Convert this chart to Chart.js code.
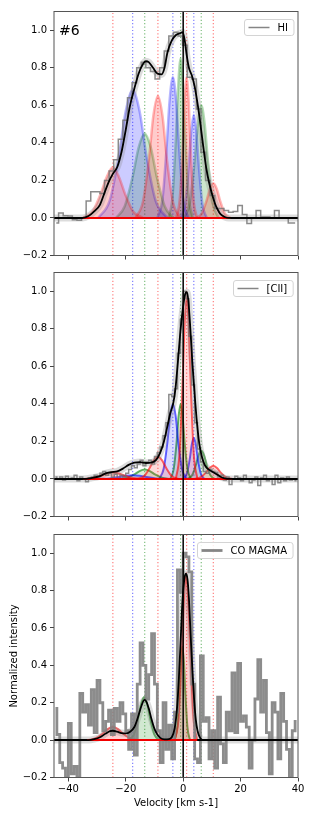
<!DOCTYPE html>
<html><head><meta charset="utf-8">
<script src="https://cdn.jsdelivr.net/npm/chart.js@4.4.1/dist/chart.umd.min.js"></script>
<style>
html,body{margin:0;padding:0;background:#fff;}
#wrap{position:relative;width:314px;height:816px;overflow:hidden;}
canvas{position:absolute;left:0;top:0;}
</style></head><body>
<div id="wrap">
<canvas id="c1" width="314" height="816"></canvas>
<canvas id="c2" width="314" height="816"></canvas>
<canvas id="c3" width="314" height="816"></canvas>
</div>
<script>
// ---------- DATA ----------
const panelLabels = ['HI', '[CII]', 'CO MAGMA'];
const regionTag = '#6';
const xTickValues = [-40, -20, 0, 20, 40];
const yTickValues = [-0.2, 0.0, 0.2, 0.4, 0.6, 0.8, 1.0];
const componentCenters = [-24.5, -17.6, -13.4, -8.8, -3.6, -0.9, 1.2, 3.7, 6.3, 10.5];
const componentCenterColors = ['r','b','g','r','b','g','r','b','g','r'];

// HI observed spectrum (channel centres, km/s) and normalized intensity
const hiVelocity = [-44.2,-42.6,-41.0,-39.4,-37.8,-36.2,-34.6,-33.0,-31.4,-29.8,
  -28.2,-26.6,-25.0,-23.4,-21.8,-20.2,-18.6,-17.0,-15.4,-13.8,
  -12.2,-10.6,-9.0,-7.4,-5.8,-4.2,-2.6,-1.0,0.6,2.2,
  3.8,5.4,7.0,8.6,10.2,11.8,13.4,15.0,16.6,18.2,
  19.8,21.4,23.0,24.6,26.2,27.8,29.4,31.0,32.6,34.2,
  35.8,37.4,39.0];
const hiObserved = [-0.027,0.027,0.012,0.01,-0.01,-0.012,0.0,0.09,0.14,0.14,
  0.13,0.2,0.25,0.31,0.42,0.52,0.64,0.72,0.8,0.83,
  0.8,0.78,0.74,0.8,0.89,0.97,0.99,0.97,0.92,0.75,
  0.74,0.58,0.35,0.2,0.12,0.05,0.05,0.04,0.03,0.035,
  0.067,0.018,-0.03,0.0,0.04,0.005,0.005,0.0,0.04,0.0,
  0.0,-0.027,-0.027];
const hiModelVelocity = [-45,-35,-33,-31,-29,-27.5,-26,-24.5,-23,-21.5,
  -20,-18.5,-17,-15.5,-14,-13,-12,-10.5,-9,-7.5,
  -6.5,-5.5,-4,-2.5,-1,-0.2,0.5,1.2,2,3,
  4,5,6,7,8,9,10,11,12,13,
  14.5,16,40];
const hiModel = [0,0,0.01,0.035,0.07,0.13,0.19,0.235,0.27,0.35,
  0.47,0.6,0.69,0.77,0.82,0.835,0.83,0.8,0.77,0.765,
  0.8,0.88,0.945,0.975,0.985,0.99,0.95,0.87,0.8,0.76,
  0.7,0.61,0.5,0.38,0.27,0.19,0.13,0.08,0.045,0.02,
  0.005,0,0];
const hiComponents = [
  [[-35,0],[-31.5,0.036],[-28.7,0.13],[-26.6,0.22],[-24.5,0.27],[-22.4,0.22],[-20.3,0.13],[-17.5,0.036],[-14,0]],
  [[-29.6,0],[-25.6,0.092],[-22.4,0.33],[-20,0.57],[-17.6,0.68],[-15.2,0.57],[-12.8,0.33],[-9.6,0.092],[-5.6,0]],
  [[-23.4,0],[-20.4,0.061],[-17.6,0.22],[-15.5,0.376],[-13.4,0.45],[-11.3,0.376],[-9.2,0.22],[-6.4,0.061],[-3.4,0]],
  [[-16.6,0],[-14,0.088],[-11.9,0.317],[-10.4,0.543],[-8.8,0.65],[-7.2,0.543],[-5.7,0.317],[-3.6,0.088],[-1,0]],
  [[-9,0],[-7.2,0.1],[-5.8,0.37],[-4.7,0.63],[-3.6,0.75],[-2.5,0.63],[-1.4,0.37],[0,0.1],[1.8,0]],
  [[-5.1,0],[-3.7,0.115],[-2.6,0.41],[-1.7,0.71],[-0.9,0.85],[-0.1,0.71],[0.8,0.41],[1.9,0.115],[3.3,0]],
  [[-2.4,0],[-1.2,0.1],[-0.2,0.365],[0.5,0.625],[1.2,0.75],[1.9,0.625],[2.6,0.365],[3.6,0.1],[4.8,0]],
  [[-0.8,0],[0.7,0.074],[1.9,0.268],[2.8,0.46],[3.7,0.55],[4.6,0.46],[5.5,0.268],[6.7,0.074],[8.2,0]],
  [[0.3,0],[2.3,0.081],[3.9,0.29],[5.1,0.5],[6.3,0.6],[7.5,0.5],[8.7,0.29],[10.3,0.081],[12.3,0]],
  [[4.5,0],[6.5,0.025],[8.1,0.09],[9.3,0.155],[10.5,0.185],[11.7,0.155],[12.9,0.09],[14.5,0.025],[16.5,0]]
];
const hiComponentColors = ['r','b','g','r','b','g','r','b','g','r'];

// [CII] and CO share a 1 km/s channel grid
const fineVelocity = [-44.5,-43.5,-42.5,-41.5,-40.5,-39.5,-38.5,-37.5,-36.5,-35.5,
  -34.5,-33.5,-32.5,-31.5,-30.5,-29.5,-28.5,-27.5,-26.5,-25.5,
  -24.5,-23.5,-22.5,-21.5,-20.5,-19.5,-18.5,-17.5,-16.5,-15.5,
  -14.5,-13.5,-12.5,-11.5,-10.5,-9.5,-8.5,-7.5,-6.5,-5.5,
  -4.5,-3.5,-2.5,-1.5,-0.5,0.5,1.5,2.5,3.5,4.5,
  5.5,6.5,7.5,8.5,9.5,10.5,11.5,12.5,13.5,14.5,
  15.5,16.5,17.5,18.5,19.5,20.5,21.5,22.5,23.5,24.5,
  25.5,26.5,27.5,28.5,29.5,30.5,31.5,32.5,33.5,34.5,
  35.5,36.5,37.5,38.5,39.5];
const ciiObserved = [0.01,0.0,0.01,-0.005,0.015,0.0,0.005,0.02,-0.01,0.01,
  0.0,-0.015,0.005,0.01,0.02,0.01,0.03,0.04,0.02,0.03,
  0.01,0.025,0.0,0.02,0.01,0.03,0.05,0.07,0.06,0.08,
  0.1,0.07,0.09,0.1,0.08,0.12,0.14,0.17,0.23,0.3,
  0.45,0.44,0.48,0.67,0.85,1.0,0.96,0.76,0.5,0.3,
  0.16,0.09,0.04,0.03,0.05,0.04,0.035,0.01,0.02,-0.005,
  0.01,-0.03,0.0,0.015,0.005,-0.01,0.02,0.0,-0.02,-0.005,
  0.01,-0.035,0.005,0.02,-0.01,0.0,-0.03,0.02,-0.02,0.005,
  -0.01,0.01,-0.005,0.0,-0.01];
const ciiModelVelocity = [-45,-35,-32,-29,-27,-25,-23,-21,-19,-17,
  -15,-13,-11,-9.5,-8,-6.7,-5.5,-4.5,-3.5,-2.7,
  -1.8,-1,0,0.8,1.3,1.8,2.5,3.2,4,4.8,
  5.6,6.5,7.5,8.5,10,11.5,13,14.5,16,40];
const ciiModel = [0,0,0.005,0.015,0.03,0.037,0.04,0.055,0.075,0.087,
  0.09,0.085,0.088,0.1,0.14,0.2,0.28,0.35,0.4,0.48,
  0.63,0.78,0.92,0.99,0.995,0.95,0.8,0.62,0.45,0.3,
  0.19,0.12,0.075,0.055,0.04,0.027,0.012,0.003,0,0];
const ciiComponents = [
  [[-35,0],[-31.5,0.005],[-28.7,0.017],[-26.6,0.029],[-24.5,0.035],[-22.4,0.029],[-20.3,0.017],[-17.5,0.005],[-14,0]],
  [[-29.6,0],[-25.6,0.003],[-22.4,0.01],[-20,0.017],[-17.6,0.02],[-15.2,0.017],[-12.8,0.01],[-9.6,0.003],[-5.6,0]],
  [[-22.4,0],[-19.4,0.007],[-17,0.024],[-15.2,0.042],[-13.4,0.05],[-11.6,0.042],[-9.8,0.024],[-7.4,0.007],[-4.4,0]],
  [[-16,0],[-13.6,0.016],[-11.7,0.058],[-10.2,0.1],[-8.8,0.12],[-7.4,0.1],[-5.9,0.058],[-4,0.016],[-1.6,0]],
  [[-8.4,0],[-6.8,0.054],[-5.5,0.195],[-4.6,0.334],[-3.6,0.4],[-2.6,0.334],[-1.7,0.195],[-0.4,0.054],[1.2,0]],
  [[-4.5,0],[-3.3,0.054],[-2.3,0.195],[-1.6,0.334],[-0.9,0.4],[-0.2,0.334],[0.5,0.195],[1.5,0.054],[2.7,0]],
  [[-2.55,0],[-1.3,0.131],[-0.3,0.472],[0.45,0.81],[1.2,0.97],[1.95,0.81],[2.7,0.472],[3.7,0.131],[4.95,0]],
  [[0.1,0],[1.3,0.03],[2.3,0.107],[3.0,0.184],[3.7,0.22],[4.4,0.184],[5.1,0.107],[6.1,0.03],[7.3,0]],
  [[1.5,0],[3.1,0.02],[4.4,0.073],[5.3,0.125],[6.3,0.15],[7.3,0.125],[8.2,0.073],[9.5,0.02],[11.1,0]],
  [[3.9,0],[6.1,0.0095],[7.9,0.034],[9.2,0.058],[10.5,0.07],[11.8,0.058],[13.1,0.034],[14.9,0.0095],[17.1,0]]
];
const ciiComponentColors = ['r','b','g','r','b','g','r','b','g','r'];

const coObserved = [0.17,0.03,-0.12,-0.15,-0.2,0.09,-0.18,-0.14,-0.2,0.25,
  0.15,0.19,0.08,0.27,0.04,0.32,0.2,0.05,0.1,0.16,
  0.03,0.17,0.1,0.2,0.14,0.05,-0.05,0.14,-0.08,0.3,
  0.52,0.4,0.22,0.35,0.57,0.3,0.05,-0.12,0.2,-0.05,
  0.08,-0.1,0.15,0.91,0.79,1.0,0.98,0.9,0.3,-0.1,
  -0.12,0.45,0.1,0.12,-0.1,0.05,-0.15,0.23,-0.02,-0.12,
  0.15,0.05,0.36,0.04,0.41,0.1,0.13,0.07,-0.15,0.0,
  0.22,0.43,0.15,0.32,0.04,-0.18,0.2,0.15,-0.1,0.25,
  0.1,-0.05,-0.2,0.05,0.1];
const coModelVelocity = [-45,-33,-31,-29,-27,-25.5,-24.5,-23,-21.5,-20,
  -18.5,-17,-15.8,-14.5,-13.5,-12.8,-12,-11,-10,-9,
  -8,-6.5,-5,-4,-3,-2.2,-1.5,-0.8,-0.2,0.5,
  1,1.5,2,2.6,3.2,3.8,4.4,5,5.8,7,
  40];
const coModel = [0,0,0.005,0.015,0.035,0.048,0.05,0.045,0.038,0.036,
  0.045,0.07,0.12,0.185,0.215,0.205,0.17,0.11,0.06,0.03,
  0.012,0.004,0.005,0.015,0.06,0.16,0.33,0.56,0.76,0.87,
  0.89,0.86,0.76,0.56,0.38,0.22,0.11,0.05,0.015,0,
  0];
const coComponents = [
  [[-33.5,0],[-30.5,0.01],[-28.1,0.034],[-26.3,0.059],[-24.5,0.07],[-22.7,0.059],[-20.9,0.034],[-18.5,0.01],[-15.5,0]],
  [[-19,0],[-17.2,0.03],[-15.8,0.11],[-14.7,0.19],[-13.6,0.23],[-12.5,0.19],[-11.4,0.11],[-10,0.03],[-8.2,0]],
  [[-3,0],[-2.1,0.068],[-1.4,0.24],[-0.85,0.42],[-0.3,0.5],[0.25,0.42],[0.8,0.24],[1.5,0.068],[2.4,0]],
  [[-2.9,0],[-1.6,0.119],[-0.6,0.43],[0.2,0.735],[1.0,0.88],[1.8,0.735],[2.6,0.43],[3.6,0.119],[4.9,0]]
];
const coComponentColors = ['r','g','g','r'];

// ---------- STYLE / LAYOUT ----------
const RGB = {r:'255,0,0', b:'0,0,255', g:'0,128,0'};
const FONT = '"DejaVu Sans", "Liberation Sans", sans-serif';
Chart.defaults.font.family = FONT;
Chart.defaults.font.size = 10;
Chart.defaults.color = '#000';

const panels = [
  {id:'c1', top:11.5, bottom:255.5, vel:hiVelocity, obs:hiObserved, mv:hiModelVelocity, mod:hiModel,
   comps:hiComponents, cc:hiComponentColors, label:panelLabels[0], obsWidth:1.5, obsColor:'rgba(110,110,110,0.8)',
   legendWidth:1.5, fillA:0.2, lineA:0.28, lineW:2.5, showX:false, showY:false, tag:regionTag},
  {id:'c2', top:272.5, bottom:516.5, vel:fineVelocity, obs:ciiObserved, mv:ciiModelVelocity, mod:ciiModel,
   comps:ciiComponents, cc:ciiComponentColors, label:panelLabels[1], obsWidth:1.5, obsColor:'rgba(110,110,110,0.8)',
   legendWidth:1.5, fillA:0.14, lineA:0.6, lineW:2, showX:false, showY:false, tag:null},
  {id:'c3', top:534.5, bottom:777.5, vel:fineVelocity, obs:coObserved, mv:coModelVelocity, mod:coModel,
   comps:coComponents, cc:coComponentColors, label:panelLabels[2], obsWidth:2.8, obsColor:'rgba(128,128,128,0.9)',
   legendWidth:2.8, fillA:0.18, lineA:0.6, lineW:2, showX:true, showY:true, tag:null}
];

const fmt = (v, d) => (v < -1e-9 ? '\u2212' : '') + Math.abs(v).toFixed(d);

function roundRect(ctx, x, y, w, h, r) {
  ctx.beginPath();
  ctx.moveTo(x + r, y);
  ctx.lineTo(x + w - r, y); ctx.arcTo(x + w, y, x + w, y + r, r);
  ctx.lineTo(x + w, y + h - r); ctx.arcTo(x + w, y + h, x + w - r, y + h, r);
  ctx.lineTo(x + r, y + h); ctx.arcTo(x, y + h, x, y + h - r, r);
  ctx.lineTo(x, y + r); ctx.arcTo(x, y, x + r, y, r);
  ctx.closePath();
}

function overlayPlugin(p) {
  return {
    id: 'overlay',
    afterDraw(chart) {
      const {ctx, chartArea: a} = chart;
      ctx.save();
      ctx.strokeStyle = '#555'; ctx.lineWidth = 1;
      ctx.strokeRect(a.left, a.top, a.right - a.left, a.bottom - a.top);
      ctx.font = '10px ' + FONT;
      const tw = ctx.measureText(p.label).width;
      const w = 4 + 21 + 8 + tw + 6, h = 16;
      const x = Math.round(a.right - 5 - w) + 0.5, y = Math.round(a.top + 7) + 0.5;
      roundRect(ctx, x, y, w, h, 2.5);
      ctx.fillStyle = 'rgba(255,255,255,0.85)'; ctx.fill();
      ctx.strokeStyle = '#d4d4d4'; ctx.lineWidth = 1; ctx.stroke();
      ctx.strokeStyle = 'rgba(120,120,120,0.9)'; ctx.lineWidth = p.legendWidth;
      ctx.beginPath(); ctx.moveTo(x + 4, y + h / 2); ctx.lineTo(x + 25, y + h / 2); ctx.stroke();
      ctx.fillStyle = '#000'; ctx.textBaseline = 'middle'; ctx.textAlign = 'left';
      ctx.fillText(p.label, x + 33, y + h / 2 + 0.5);
      if (p.tag) {
        ctx.font = '14px ' + FONT;
        ctx.fillText(p.tag, a.left + 5, a.top + 20);
      }
      ctx.restore();
    }
  };
}

function pts(xs, ys) { return xs.map((x, i) => ({x, y: ys[i]})); }

panels.forEach(p => {
  const datasets = [];
  datasets.push({data: pts(p.mv, p.mod), borderColor: '#000', borderWidth: 1.8, pointRadius: 0,
    cubicInterpolationMode: 'monotone', fill: false, order: 0});
  datasets.push({data: [{x: 0, y: -0.2}, {x: 0, y: 1.1}], borderColor: '#000', borderWidth: 1.5,
    pointRadius: 0, fill: false, order: 1});
  datasets.push({data: [{x: -45, y: 0}, {x: 40, y: 0}], borderColor: '#000', borderWidth: 2,
    pointRadius: 0, fill: false, order: 3});
  const cMin = Math.min(...p.comps.map(c => c[0][0]));
  const cMax = Math.max(...p.comps.map(c => c[c.length - 1][0]));
  datasets.push({data: [{x: cMin, y: 0}, {x: cMax, y: 0}], borderColor: 'rgba(255,0,0,0.95)', borderWidth: 2,
    pointRadius: 0, fill: false, order: 2});
  datasets.push({data: pts(p.mv, p.mod), borderColor: 'rgba(128,128,128,0.28)', borderWidth: 7, pointRadius: 0,
    cubicInterpolationMode: 'monotone', fill: false, order: 4});
  datasets.push({data: pts(p.vel, p.obs), borderColor: p.obsColor, borderWidth: p.obsWidth, pointRadius: 0,
    stepped: 'middle', fill: false, order: 5});
  p.comps.forEach((c, i) => {
    const col = RGB[p.cc[i]];
    datasets.push({data: c.map(([x, y]) => ({x, y})), borderColor: `rgba(${col},${p.lineA})`,
      backgroundColor: `rgba(${col},${p.fillA})`, fill: 'origin', borderWidth: p.lineW, pointRadius: 0,
      cubicInterpolationMode: 'monotone', order: p.cc[i] === 'r' ? 10 : 11});
  });
  componentCenters.forEach((v, i) => {
    datasets.push({data: [{x: v, y: -0.2}, {x: v, y: 1.1}], borderColor: `rgba(${RGB[componentCenterColors[i]]},0.5)`,
      borderWidth: 1.2, borderDash: [1.2, 2.2], pointRadius: 0, fill: false, order: 30});
  });

  const xAxisH = p.showX ? 816 - p.bottom : 10;
  const padBottom = p.showX ? 0 : 816 - p.bottom - xAxisH;
  new Chart(document.getElementById(p.id), {
    type: 'line',
    data: {datasets},
    plugins: [overlayPlugin(p)],
    options: {
      responsive: false, animation: false, devicePixelRatio: 1, events: [],
      layout: {padding: {left: 0, right: 16, top: p.top, bottom: padBottom}},
      plugins: {legend: {display: false}, tooltip: {enabled: false}},
      scales: {
        x: {
          type: 'linear', min: -45, max: 40,
          afterBuildTicks: s => { s.ticks = xTickValues.map(v => ({value: v})); },
          afterFit: s => { s.height = xAxisH; },
          grid: {drawOnChartArea: false, drawTicks: true, tickLength: 4, color: '#444', lineWidth: 1},
          border: {display: false},
          ticks: {display: p.showX, padding: 2, maxRotation: 0, autoSkip: false, color: '#000',
            callback: v => fmt(v, 0)},
          title: {display: p.showX, text: 'Velocity [km s-1]', color: '#000', padding: {top: 0, bottom: 7}}
        },
        y: {
          min: -0.2, max: 1.1,
          afterBuildTicks: s => { s.ticks = yTickValues.map(v => ({value: v})); },
          afterFit: s => { s.width = 54; },
          grid: {drawOnChartArea: false, drawTicks: true, tickLength: 4, color: '#444', lineWidth: 1},
          border: {display: false},
          ticks: {padding: 3, color: '#000', callback: v => fmt(v, 1)},
          title: {display: p.showY, text: 'Normalized intensity', color: '#000', padding: {top: 8, bottom: 0}}
        }
      }
    }
  });
});
</script>
</body></html>
